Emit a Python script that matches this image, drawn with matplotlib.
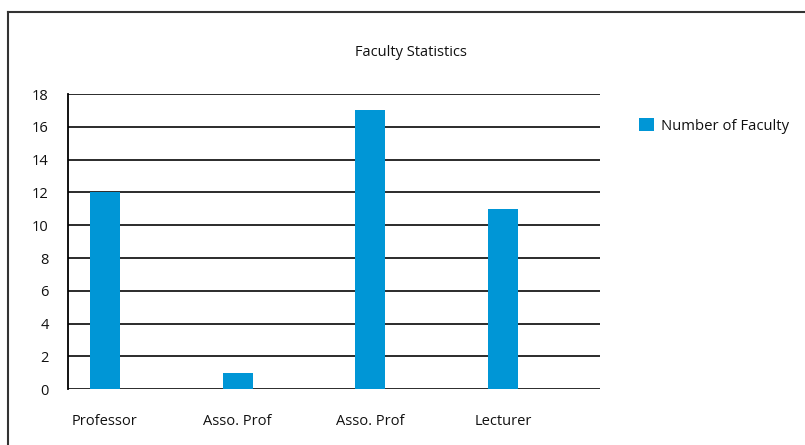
import matplotlib
matplotlib.use("Agg")
import matplotlib.pyplot as plt
from matplotlib.lines import Line2D
from matplotlib.patches import Patch

categories = ["Professor", "Asso. Prof", "Asso. Prof", "Lecturer"]
counts = [12, 1, 17, 11]
y_ticks = [0, 2, 4, 6, 8, 10, 12, 14, 16, 18]
series_name = "Number of Faculty"

plt.rcParams["font.family"] = ["Open Sans", "DejaVu Sans"]

bar_color = "#0096D6"
text_color = "#111111"

fig = plt.figure(figsize=(8.05, 4.45), dpi=100)
fig.set_facecolor("white")
ax = fig.add_axes([68 / 805, 1 - 389.3 / 445, (600 - 68) / 805, (389.3 - 94) / 445])

x = list(range(len(categories)))
ax.bar(x, counts, width=0.226, color=bar_color, zorder=3)

ax.set_xlim(-0.278, 3.73)
ax.set_ylim(0, 18)
ax.set_yticks(y_ticks)
ax.set_xticks(x)
ax.set_xticklabels(categories)
ax.grid(axis="y", color="#1a1a1a", linewidth=1.3, zorder=1)
ax.set_axisbelow(True)

for side in ["top", "right", "bottom"]:
    ax.spines[side].set_visible(False)
ax.spines["left"].set_color("black")
ax.spines["left"].set_linewidth(1.3)
ax.tick_params(axis="both", length=0, labelsize=10.5, colors=text_color)
ax.tick_params(axis="y", pad=14)
ax.tick_params(axis="x", pad=18)

fig.text(411 / 805, 1 - 52 / 445, "Faculty Statistics", ha="center", va="center",
         fontsize=10.5, color=text_color)

handle = Patch(facecolor=bar_color, edgecolor="none")
fig.legend([handle], [series_name], loc="center left", bbox_to_anchor=(626 / 805, 1 - 126 / 445),
           frameon=False, fontsize=10.7, handlelength=1.0, handleheight=1.0, handletextpad=0.45,
           labelcolor=text_color)

# outer frame (runs off the right and bottom edges)
fig.add_artist(Line2D([8 / 805, 1.01], [1 - 12 / 445, 1 - 12 / 445], transform=fig.transFigure,
                      color="#333333", linewidth=1.5))
fig.add_artist(Line2D([8 / 805, 8 / 805], [1 - 12 / 445, -0.01], transform=fig.transFigure,
                      color="#333333", linewidth=1.5))

plt.savefig("out.png", dpi=100)
